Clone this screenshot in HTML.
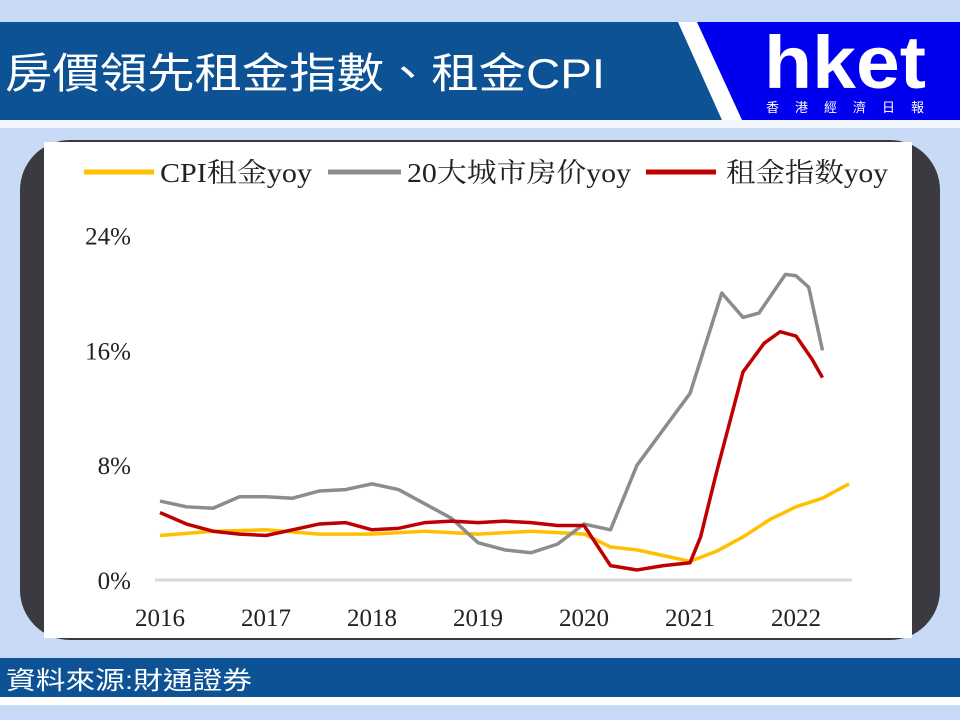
<!DOCTYPE html>
<html><head><meta charset="utf-8"><style>
body{margin:0;width:960px;height:720px;background:#c8daf5;position:relative;overflow:hidden;font-family:"Liberation Sans","Noto Sans CJK TC",sans-serif}
.abs{position:absolute}
</style></head><body>
<svg class="abs" style="left:0;top:0" width="960" height="720">
  <polygon points="0,22 678,22 722,120 0,120" fill="#0d5295"/>
  <polygon points="678,22 697,22 742,120 722,120" fill="#ffffff"/>
  <polygon points="697,22 960,22 960,120 742,120" fill="#0000ee"/>
  <rect x="0" y="120" width="960" height="8" fill="#f2f6fc"/>
  <rect x="20" y="140" width="920" height="500" rx="50" fill="#3a3a40"/>
  <rect x="44" y="142" width="868" height="496" fill="#ffffff"/>
  <rect x="0" y="658" width="960" height="39" fill="#0d5295"/>
  <rect x="0" y="697" width="960" height="8" fill="#ffffff"/>
  <text x="5" y="88" font-size="42" fill="#fff" textLength="600" lengthAdjust="spacingAndGlyphs">房價領先租金指數、租金CPI</text>
  <text x="764" y="88" font-size="74" font-weight="bold" fill="#fff" textLength="162" lengthAdjust="spacingAndGlyphs" style="font-family:'Liberation Sans',sans-serif">hket</text>
  <text x="766" y="112" font-size="13" fill="#fff" textLength="158">香港經濟日報</text>
  <text x="6" y="689" font-size="25" fill="#fff" textLength="246" lengthAdjust="spacingAndGlyphs">資料來源:財通證券</text>
  <g id="chart"></g>
</svg>
<script>
const years=["2016","2017","2018","2019","2020","2021","2022"];
const yTicks=[0,8,16,24];
const grayT=[2016,2016.25,2016.5,2016.75,2017,2017.25,2017.5,2017.75,2018,2018.25,2018.5,2018.75,2019,2019.25,2019.5,2019.75,2020,2020.25,2020.5,2020.75,2021,2021.15,2021.3,2021.5,2021.65,2021.9,2022,2022.12,2022.25];
const grayV=[5.5,5.1,5.0,5.8,5.8,5.7,6.2,6.3,6.7,6.3,5.3,4.3,2.6,2.1,1.9,2.5,3.9,3.5,8.0,10.5,13,16.5,20.0,18.3,18.6,21.3,21.2,20.4,16.0];
const redT=[2016,2016.25,2016.5,2016.75,2017,2017.25,2017.5,2017.75,2018,2018.25,2018.5,2018.75,2019,2019.25,2019.5,2019.75,2020,2020.25,2020.5,2020.75,2021,2021.1,2021.25,2021.5,2021.7,2021.85,2022,2022.15,2022.25];
const redV=[4.7,3.9,3.4,3.2,3.1,3.5,3.9,4.0,3.5,3.6,4.0,4.1,4.0,4.1,4.0,3.8,3.8,1.0,0.7,1.0,1.2,3.0,7.5,14.5,16.5,17.3,17.0,15.4,14.1];
const yelT=[2016,2016.5,2017,2017.5,2018,2018.5,2019,2019.5,2019.75,2020,2020.25,2020.5,2020.75,2021,2021.25,2021.5,2021.75,2022,2022.25,2022.5];
const yelV=[3.1,3.4,3.5,3.2,3.2,3.4,3.2,3.4,3.3,3.2,2.3,2.1,1.7,1.3,2.0,3.0,4.2,5.1,5.7,6.7];
const legendNames=["CPI租金yoy","20大城市房价yoy","租金指数yoy"];
const NS="http://www.w3.org/2000/svg";
const g=document.getElementById('chart');
const xS=t=>160+(t-2016)*106;
const yS=v=>580-v*14.35;
function mk(tag,a){const e=document.createElementNS(NS,tag);for(const k in a)e.setAttribute(k,a[k]);g.appendChild(e);return e;}
const base=mk('line',{x1:155,x2:852,y1:yS(0),y2:yS(0),stroke:'#d9d9d9','stroke-width':3});


yTicks.forEach(v=>{const t=mk('text',{x:131,y:yS(v)+9,'text-anchor':'end','font-size':25,fill:'#222','font-family':'Liberation Serif,serif'});t.textContent=v+'%';

});
years.forEach((y,i)=>{const t=mk('text',{x:xS(2016+i),y:626,'text-anchor':'middle','font-size':25,fill:'#222','font-family':'Liberation Serif,serif'});t.textContent=y;

});
function line(T,V,col,name){const p=mk('polyline',{points:T.map((t,i)=>xS(t)+','+yS(V[i])).join(' '),fill:'none',stroke:col,'stroke-width':3.5,'stroke-linejoin':'round'});

}
line(yelT,yelV,'#ffc000','series-cpi-rent');
line(grayT,grayV,'#8c8c8c','series-house-price');
line(redT,redV,'#c00000','series-rent-index');
const leg=[[84,154,160,'#ffc000',152],[328,401,407,'#8c8c8c',224],[646,716,726,'#c00000',162]];
leg.forEach((l,i)=>{const s=mk('line',{x1:l[0],x2:l[1],y1:172,y2:172,stroke:l[3],'stroke-width':5});


const t=mk('text',{x:l[2],y:182,'font-size':27,fill:'#222','font-family':'Liberation Serif,Noto Serif CJK SC,serif',textLength:l[4],lengthAdjust:'spacingAndGlyphs'});t.textContent=legendNames[i];

});
</script>
</body></html>
